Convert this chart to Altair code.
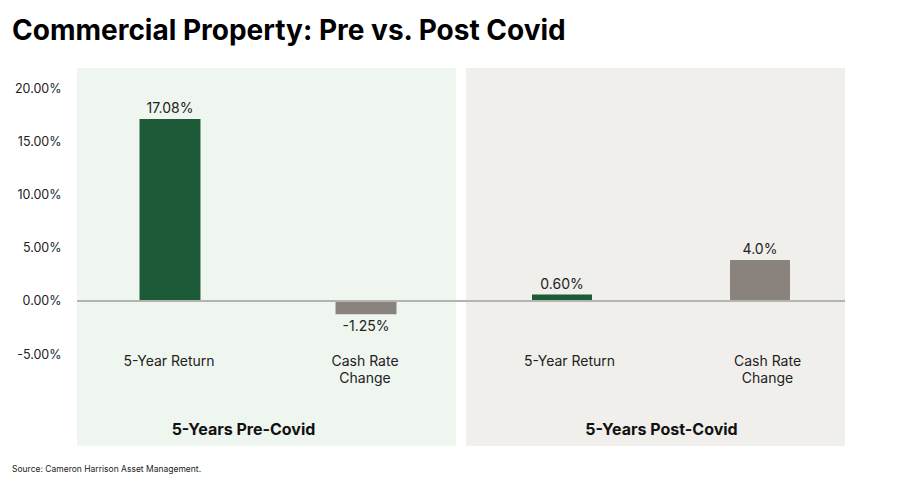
import altair as alt
import pandas as pd

# ---- data ----
groups = ["5-Years Pre-Covid", "5-Years Post-Covid"]
categories = ["5-Year Return", "Cash Rate Change"]
kinds = ["return", "cash"]
pre_values = [17.08, -1.25]
post_values = [0.60, 3.85]
pre_labels = ["17.08%", "-1.25%"]
post_labels = ["0.60%", "4.0%"]
y_ticks = [-5, 0, 5, 10, 15, 20]
source_text = "Source: Cameron Harrison Asset Management."
title_text = "Commercial Property: Pre vs. Post Covid"

rows = []
for g, vals, labs in [(groups[0], pre_values, pre_labels), (groups[1], post_values, post_labels)]:
    for c, k, v, l in zip(categories, kinds, vals, labs):
        rows.append({"group": g, "category": c, "kind": k, "value": v, "label": l})
df = pd.DataFrame(rows)
zero_df = pd.DataFrame({"zero": [0]})
src_df = pd.DataFrame({"text": [source_text]})

FONT = "Inter"
W, H = 379, 378
GAP = 10
panel_bg = ["#eff5ef", "#f0efeb"]
bar_colors = ["#1d5a37", "#8a827d"]
ydomain = [-13.62, 21.88]
band_params = [
    dict(paddingInner=0.689, paddingOuter=0.3, range=[3.7, 378.3]),
    dict(paddingInner=0.697, paddingOuter=0.3, range=[6.6, 383.4]),
]
label_offsets = [-1, 7.5]
title_xs = [166, 195]


def panel(i):
    g = groups[i]
    base = alt.Chart(df).transform_filter(alt.datum.group == g)
    xenc = alt.X(
        "category:N",
        sort=categories,
        scale=alt.Scale(**band_params[i]),
        axis=alt.Axis(
            title=g,
            orient="bottom",
            domain=False,
            ticks=False,
            labelAngle=0,
            labelPadding=-92,
            labelOffset=label_offsets[i],
            labelFontSize=14,
            labelColor="#222222",
            labelFont=FONT,
            labelLineHeight=17,
            labelExpr="datum.value == 'Cash Rate Change' ? ['Cash Rate', 'Change'] : datum.value",
            titleY=-17,
            titleX=title_xs[i],
            titleBaseline="middle",
            titleFontSize=16,
            titleFontWeight="bold",
            titleFont=FONT,
            titleColor="#111111",
        ),
    )
    if i == 0:
        yaxis = alt.Axis(
            values=y_ticks,
            title=None,
            grid=False,
            domain=False,
            ticks=False,
            labelPadding=16,
            labelFontSize=12.5,
            labelFont=FONT,
            labelColor="#222222",
            labelExpr="replace(format(datum.value / 100, '.2%'), '\u2212', '-')",
            minExtent=65,
            maxExtent=65,
        )
    else:
        yaxis = None
    yenc = alt.Y("value:Q", scale=alt.Scale(domain=ydomain, nice=False, zero=False), axis=yaxis)

    bars = base.mark_bar().encode(
        x=xenc,
        y=yenc,
        y2=alt.datum(0),
        color=alt.Color("kind:N", scale=alt.Scale(domain=kinds, range=bar_colors), legend=None),
    )
    pos = base.transform_filter("datum.value >= 0").mark_text(
        baseline="bottom", dy=-3, fontSize=14, font=FONT, color="#222222"
    ).encode(x=alt.X("category:N", sort=categories), y="value:Q", text="label:N")
    neg = base.transform_filter("datum.value < 0").mark_text(
        baseline="top", dy=6, fontSize=14, font=FONT, color="#222222"
    ).encode(x=alt.X("category:N", sort=categories), y="value:Q", text="label:N")

    rule_x2 = W + GAP if i == 0 else W
    rule = alt.Chart(zero_df).mark_rule(color="#b3b3af", strokeWidth=2).encode(
        y="zero:Q", x=alt.value(0), x2=alt.value(rule_x2)
    )
    layers = [bars, rule, pos, neg]
    if i == 0:
        src = alt.Chart(src_df).mark_text(
            align="left", baseline="middle", fontSize=8.5, font=FONT, color="#222222"
        ).encode(text="text:N", x=alt.value(-65), y=alt.value(H + 23))
        layers.append(src)
    return alt.layer(*layers).properties(
        width=W, height=H, view=alt.ViewBackground(fill=panel_bg[i], strokeWidth=0)
    )


chart = alt.hconcat(panel(0), panel(1), spacing=GAP, bounds="flush").properties(
    title=alt.TitleParams(
        text=title_text,
        anchor="start",
        frame="bounds",
        fontSize=28,
        fontWeight="bold",
        font=FONT,
        color="#000000",
        offset=22,
    ),
    padding={"left": 4, "top": 10, "right": 5, "bottom": 5},
).configure_view(strokeWidth=0).configure(background="white")

chart.save("out.html", embed_options={"renderer": "svg", "actions": False})
